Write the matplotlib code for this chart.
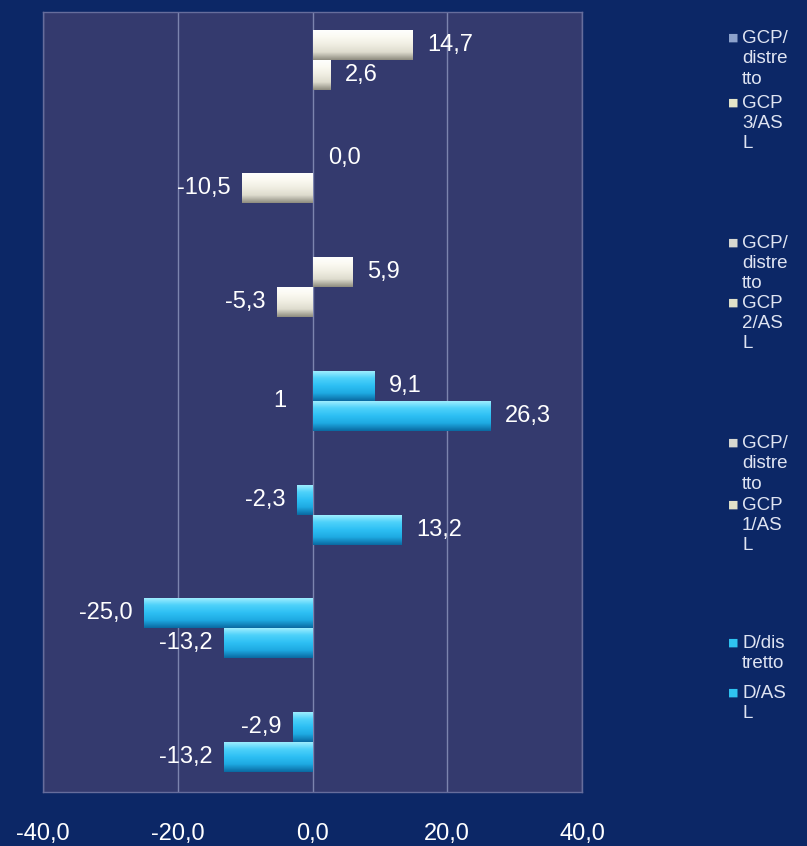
import numpy as np
import matplotlib
matplotlib.use('Agg')
import matplotlib.pyplot as plt
from matplotlib.colors import LinearSegmentedColormap

# dati
righe = [0, 1, 2, 3, 4, 5, 6]
valori_sup = [14.7, 0.0, 5.9, 9.1, -2.3, -25.0, -2.9]
valori_inf = [2.6, -10.5, -5.3, 26.3, 13.2, -13.2, -13.2]
tipo = ['gcp', 'gcp', 'gcp', 'd', 'd', 'd', 'd']
tick_x = [-40, -20, 0, 20, 40]

legenda_testi = ['GCP/\ndistre\ntto', 'GCP\n3/AS\nL', 'GCP/\ndistre\ntto', 'GCP\n2/AS\nL',
                 'GCP/\ndistre\ntto', 'GCP\n1/AS\nL', 'D/dis\ntretto', 'D/AS\nL']
legenda_colori = ['#8da2cc', '#e6e6c8', '#d8d8d0', '#e0e0c8', '#d8d8d0', '#e0e0c8', '#2fc4f2', '#2fc4f2']
legenda_y = [30, 95, 235, 295, 435, 497, 635, 685]  # pixel dall'alto

FONT = 'Liberation Sans'
SFONDO = '#0c2766'
AREA = '#343a6e'

# gradienti per l'effetto "bevel" delle barre (dall'alto verso il basso)
grad_gcp = LinearSegmentedColormap.from_list('gcp', ['#ffffff', '#fbfaf2', '#f0eee2', '#dedcce', '#8e8c80'])
grad_d = LinearSegmentedColormap.from_list('d', ['#a8f0ff', '#4fd2fa', '#2ec0f4', '#1eaae2', '#0a6aa2'])

W, H = 807, 846
fig = plt.figure(figsize=(W / 100, H / 100), dpi=100, facecolor=SFONDO)
ax = fig.add_axes([43 / W, (H - 792) / H, (582 - 43) / W, (792 - 12) / H])
ax.set_facecolor(AREA)

altezza = 0.264
gradiente = np.linspace(0, 1, 64).reshape(-1, 1)


def barra(y, v, t):
    """disegna una barra con gradiente verticale"""
    b = ax.barh(y, v, height=altezza, color='none', edgecolor='none', zorder=3)[0]
    cmap = grad_gcp if t == 'gcp' else grad_d
    x0, x1 = min(0, v), max(0, v)
    if x1 - x0 > 0:
        # riga 0 dell'immagine = bordo superiore della barra
        im = ax.imshow(gradiente, cmap=cmap, aspect='auto', origin='upper',
                       extent=[x0, x1, y + altezza / 2, y - altezza / 2], zorder=3)
        im.set_clip_path(b)
    # etichetta del valore
    testo = f'{v:.1f}'.replace('.', ',')
    if v >= 0:
        ax.annotate(testo, (v, y), xytext=(11, 0), textcoords='offset points',
                    ha='left', va='center', color='white', fontsize=17, family=FONT, zorder=4)
    else:
        ax.annotate(testo, (v, y), xytext=(-8, 0), textcoords='offset points',
                    ha='right', va='center', color='white', fontsize=17, family=FONT, zorder=4)


for r, vs, vi, t in zip(righe, valori_sup, valori_inf, tipo):
    barra(r - altezza / 2, vs, t)
    barra(r + altezza / 2, vi, t)

# etichetta isolata "1" presente nell'originale
ax.text(-4.8, 3.0, '1', color='white', fontsize=17, family=FONT, ha='center', va='center')

ax.set_xlim(-40, 40)
ax.set_ylim(6.44, -0.42)
ax.set_xticks(tick_x)
ax.set_xticklabels([f'{v:.1f}'.replace('.', ',') for v in tick_x], color='white',
                   fontsize=17, family=FONT)
ax.tick_params(axis='x', length=0, pad=22)
ax.set_yticks([])
ax.grid(axis='x', color='#7c84ae', linewidth=1, zorder=1)
for s in ax.spines.values():
    s.set_color('#666d9c')
    s.set_linewidth(1)

# legenda disegnata a mano
for txt, col, y in zip(legenda_testi, legenda_colori, legenda_y):
    fig.text(742 / W, 1 - y / H, txt, color='#dfe4f2', fontsize=13.5, family=FONT,
             va='top', ha='left', linespacing=1.25)
    fig.text(733 / W, 1 - (y + 8) / H, '■', color=col, fontsize=8, family='DejaVu Sans',
             va='center', ha='center')

fig.savefig('out.png', dpi=100, facecolor=SFONDO)
